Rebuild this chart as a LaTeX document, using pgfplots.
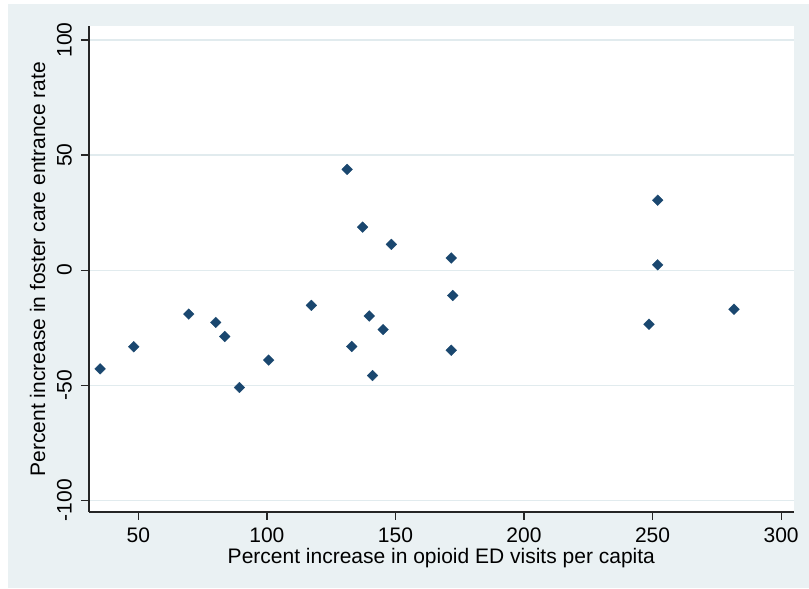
\documentclass[border=0pt]{standalone}
\usepackage{fontspec}
\setmainfont{Liberation Sans}
\usepackage{pgfplots}
\pgfplotsset{compat=1.18}

\definecolor{statabg}{HTML}{EAF1F3}
\definecolor{statagrid}{HTML}{E1EBEE}
\definecolor{statanavy}{RGB}{26,71,111}

\begin{document}
\fontsize{21}{25}\selectfont
\begin{tikzpicture}
    % page and graph region (1px = 1pt)
    \path[use as bounding box] (0pt,0pt) rectangle (809pt,589pt);
    \fill[white] (0pt,0pt) rectangle (809pt,589pt);
    \fill[statabg] (8pt,1pt) rectangle (809pt,585pt);
    \begin{axis}[
        scale only axis,
        width=704.7pt,
        height=486pt,
        at={(89pt,77pt)},
        anchor=south west,
        axis background/.style={fill=white},
        xmin=30.8, xmax=304.9,
        ymin=-105.1, ymax=106.1,
        axis lines*=left,
        axis line style={black!85, line width=1.2pt},
        tick align=outside,
        major tick length=8pt,
        tick style={black!85, line width=1.2pt},
        xtick={50,100,150,200,250,300},
        xticklabels={50,100,150,200,250,300},
        ytick={-100,-50,0,50,100},
        yticklabels={-100,-50,0,50,100},
        xticklabel style={anchor=north, inner sep=7.5pt},
        yticklabel style={rotate=90, anchor=south, inner sep=9pt},
        ymajorgrids,
        major grid style={statagrid, line width=1.2pt},
        xlabel={Percent increase in opioid ED visits per capita},
        ylabel={Percent increase in foster care entrance rate},
        xlabel style={at={(axis description cs:0.5,-0.1059)}, anchor=base},
        ylabel style={at={(axis description cs:-0.0624,0.5)}, anchor=base},
        clip=false,
    ]
        \addplot [
            only marks,
            mark=square*,
            mark size=3.8pt,
            mark options={rotate=45, fill=statanavy, draw=statanavy, line width=0.3pt},
        ]
        table {
            x y
            35.1 -42.9
            48.2 -33.3
            69.6 -19.1
            80.1 -22.7
            83.6 -28.8
            89.3 -51.0
            100.7 -39.1
            117.3 -15.3
            133.0 -33.2
            139.8 -19.9
            145.2 -25.8
            141.1 -45.8
            172.3 -11.0
            171.7 -34.8
            248.6 -23.5
            281.7 -17.0
            131.2 43.8
            137.2 18.7
            148.4 11.2
            171.7 5.3
            252.0 30.4
            252.0 2.3
        };
    \end{axis}
\end{tikzpicture}
\end{document}
